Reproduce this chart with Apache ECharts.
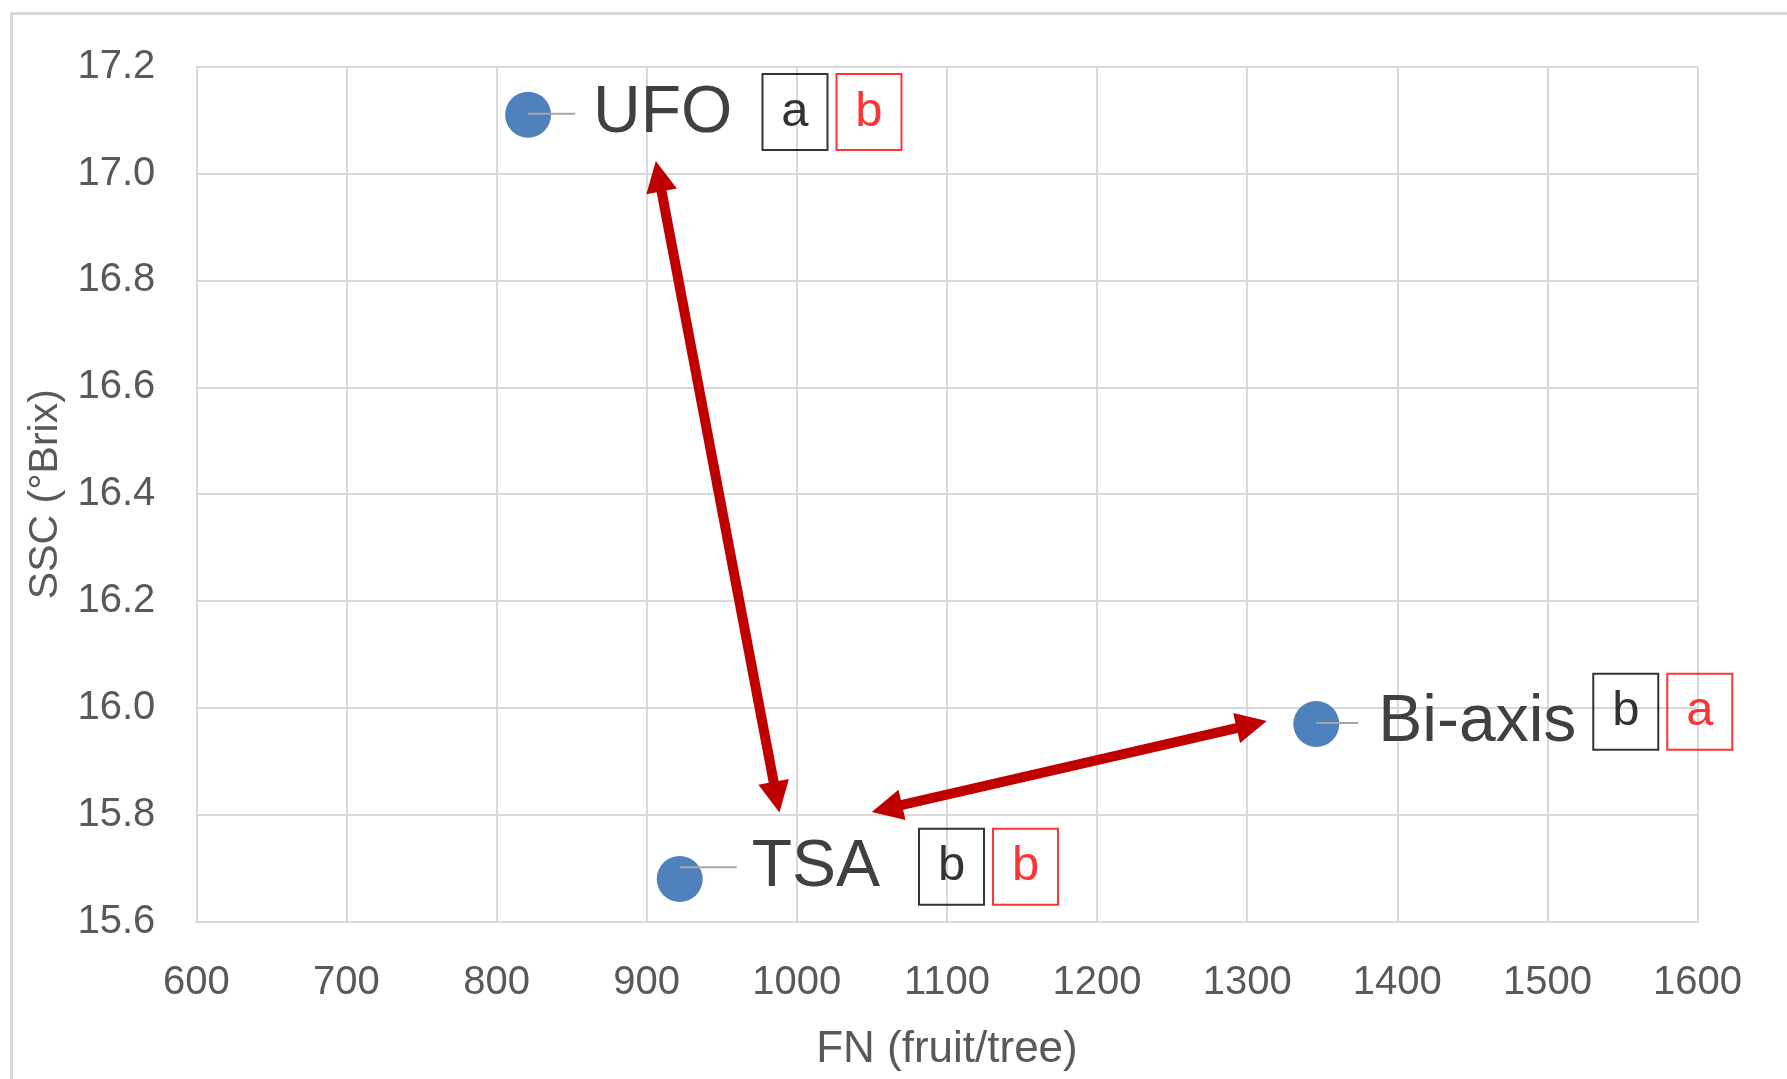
<!DOCTYPE html>
<html>
<head>
<meta charset="utf-8">
<script src="https://cdn.jsdelivr.net/npm/echarts@6/dist/echarts.min.js"></script>
<style>
html,body{margin:0;padding:0;background:#fff;}
#chart{width:1787px;height:1079px;}
</style>
</head>
<body>
<div id="chart"></div>
<script>
// ---- data ----
const treatments = ['UFO', 'TSA', 'Bi-axis'];
const fnValues = [821, 922, 1346];          // FN (fruit/tree)
const sscValues = [17.11, 15.68, 15.97];    // SSC (°Brix)
const sscLetters = ['a', 'b', 'b'];         // black boxes
const fnLetters = ['b', 'b', 'a'];          // red boxes
const arrowStarts = [[908, 16.995], [1060, 15.812]];
const arrowEnds = [[986.5, 15.833], [1303, 15.969]];
const xTicks = [600, 700, 800, 900, 1000, 1100, 1200, 1300, 1400, 1500, 1600];
const yTicks = ['15.6', '15.8', '16.0', '16.2', '16.4', '16.6', '16.8', '17.0', '17.2'];

// ---- label layout (styles/positions kept separate) ----
const FONT = '"Liberation Sans", Arial, sans-serif';
const nameLayout = [
  { ln: 47, sp: 18, dy: -1 },
  { ln: 57, sp: 15, dy: -11.6 },
  { ln: 42, sp: 20, dy: -1 }
];
const boxLayout = [
  { dx: 234.4, dy: -2.7 },
  { dx: 239.3, dy: -12.3 },
  { dx: 277, dy: -12.2 }
];

function boxStyle(color) {
  return {
    fontSize: 49, fontFamily: FONT, color: color,
    borderColor: color, borderWidth: 2,
    width: 65, height: 76, lineHeight: 76, align: 'center'
  };
}

const pointData = treatments.map((n, i) => ({
  name: n,
  value: [fnValues[i], sscValues[i]],
  label: {
    show: true,
    position: ['50%', '50%'],
    align: 'left',
    verticalAlign: 'middle',
    offset: [0, nameLayout[i].dy],
    formatter: '{ln| }{sp| }{nm|' + n + '}',
    rich: {
      ln: { width: nameLayout[i].ln, height: 2, fontSize: 2, backgroundColor: '#a6a6a6' },
      sp: { width: nameLayout[i].sp, fontSize: 2 },
      nm: { fontSize: 66, color: '#404040', fontFamily: FONT }
    }
  }
}));

const boxData = treatments.map((n, i) => ({
  name: n,
  value: [fnValues[i], sscValues[i]],
  label: {
    show: true,
    position: ['50%', '50%'],
    align: 'left',
    verticalAlign: 'middle',
    offset: [boxLayout[i].dx, boxLayout[i].dy],
    formatter: '{k|' + sscLetters[i] + '}{g| }{r|' + fnLetters[i] + '}',
    rich: {
      k: boxStyle('#000000'),
      g: { width: 9, fontSize: 2 },
      r: boxStyle('#ff0000')
    }
  }
}));

const arrowData = arrowStarts.map((s, i) => ({ coords: [s, arrowEnds[i]] }));

const gridColor = '#d9d9d9';
const option = {
  animation: false,
  backgroundColor: '#ffffff',
  graphic: [{
    type: 'rect', silent: true, z: -10,
    shape: { x: 11.5, y: 13.5, width: 2000, height: 2000 },
    style: { fill: 'none', stroke: '#d9d9d9', lineWidth: 3 }
  }],
  grid: { left: 196.3, right: 89.4, top: 66.7, bottom: 157.3, containLabel: false },
  xAxis: {
    type: 'value', min: xTicks[0], max: xTicks[xTicks.length - 1], interval: 100,
    name: 'FN (fruit/tree)', nameLocation: 'middle', nameGap: 106,
    nameTextStyle: { fontSize: 44, color: '#595959', fontFamily: FONT },
    axisLine: { show: true, onZero: false, lineStyle: { color: gridColor, width: 2 } },
    axisTick: { show: false },
    axisLabel: { fontSize: 40, color: '#595959', fontFamily: FONT, margin: 41,
      formatter: v => String(xTicks.find(t => Math.abs(t - v) < 1e-6) ?? v) },
    splitLine: { show: true, lineStyle: { color: gridColor, width: 2 } }
  },
  yAxis: {
    type: 'value', min: 15.6, max: 17.2, interval: 0.2,
    name: 'SSC (°Brix)', nameLocation: 'middle', nameGap: 119,
    nameTextStyle: { fontSize: 41, color: '#595959', fontFamily: FONT },
    axisLine: { show: true, onZero: false, lineStyle: { color: gridColor, width: 2 } },
    axisTick: { show: false },
    axisLabel: { fontSize: 40, color: '#595959', fontFamily: FONT, margin: 41,
      formatter: v => yTicks.find(t => Math.abs(parseFloat(t) - v) < 1e-6) ?? v.toFixed(1) },
    splitLine: { show: true, lineStyle: { color: gridColor, width: 2 } }
  },
  series: [
    {
      type: 'lines', coordinateSystem: 'cartesian2d', z: 3,
      symbol: ['triangle', 'triangle'], symbolSize: 31,
      lineStyle: { color: '#c00000', width: 10, opacity: 1, curveness: 0 },
      data: arrowData, silent: true
    },
    {
      type: 'scatter', z: 4, symbol: 'circle', symbolSize: 46,
      itemStyle: { color: '#4f81bd', opacity: 1 },
      data: pointData, silent: true
    },
    {
      type: 'scatter', z: 5, symbol: 'circle', symbolSize: 1,
      itemStyle: { color: 'rgba(0,0,0,0)' },
      data: boxData, silent: true
    }
  ]
};

const chart = echarts.init(document.getElementById('chart'), null, { renderer: 'canvas' });
chart.setOption(option);
</script>
</body>
</html>
